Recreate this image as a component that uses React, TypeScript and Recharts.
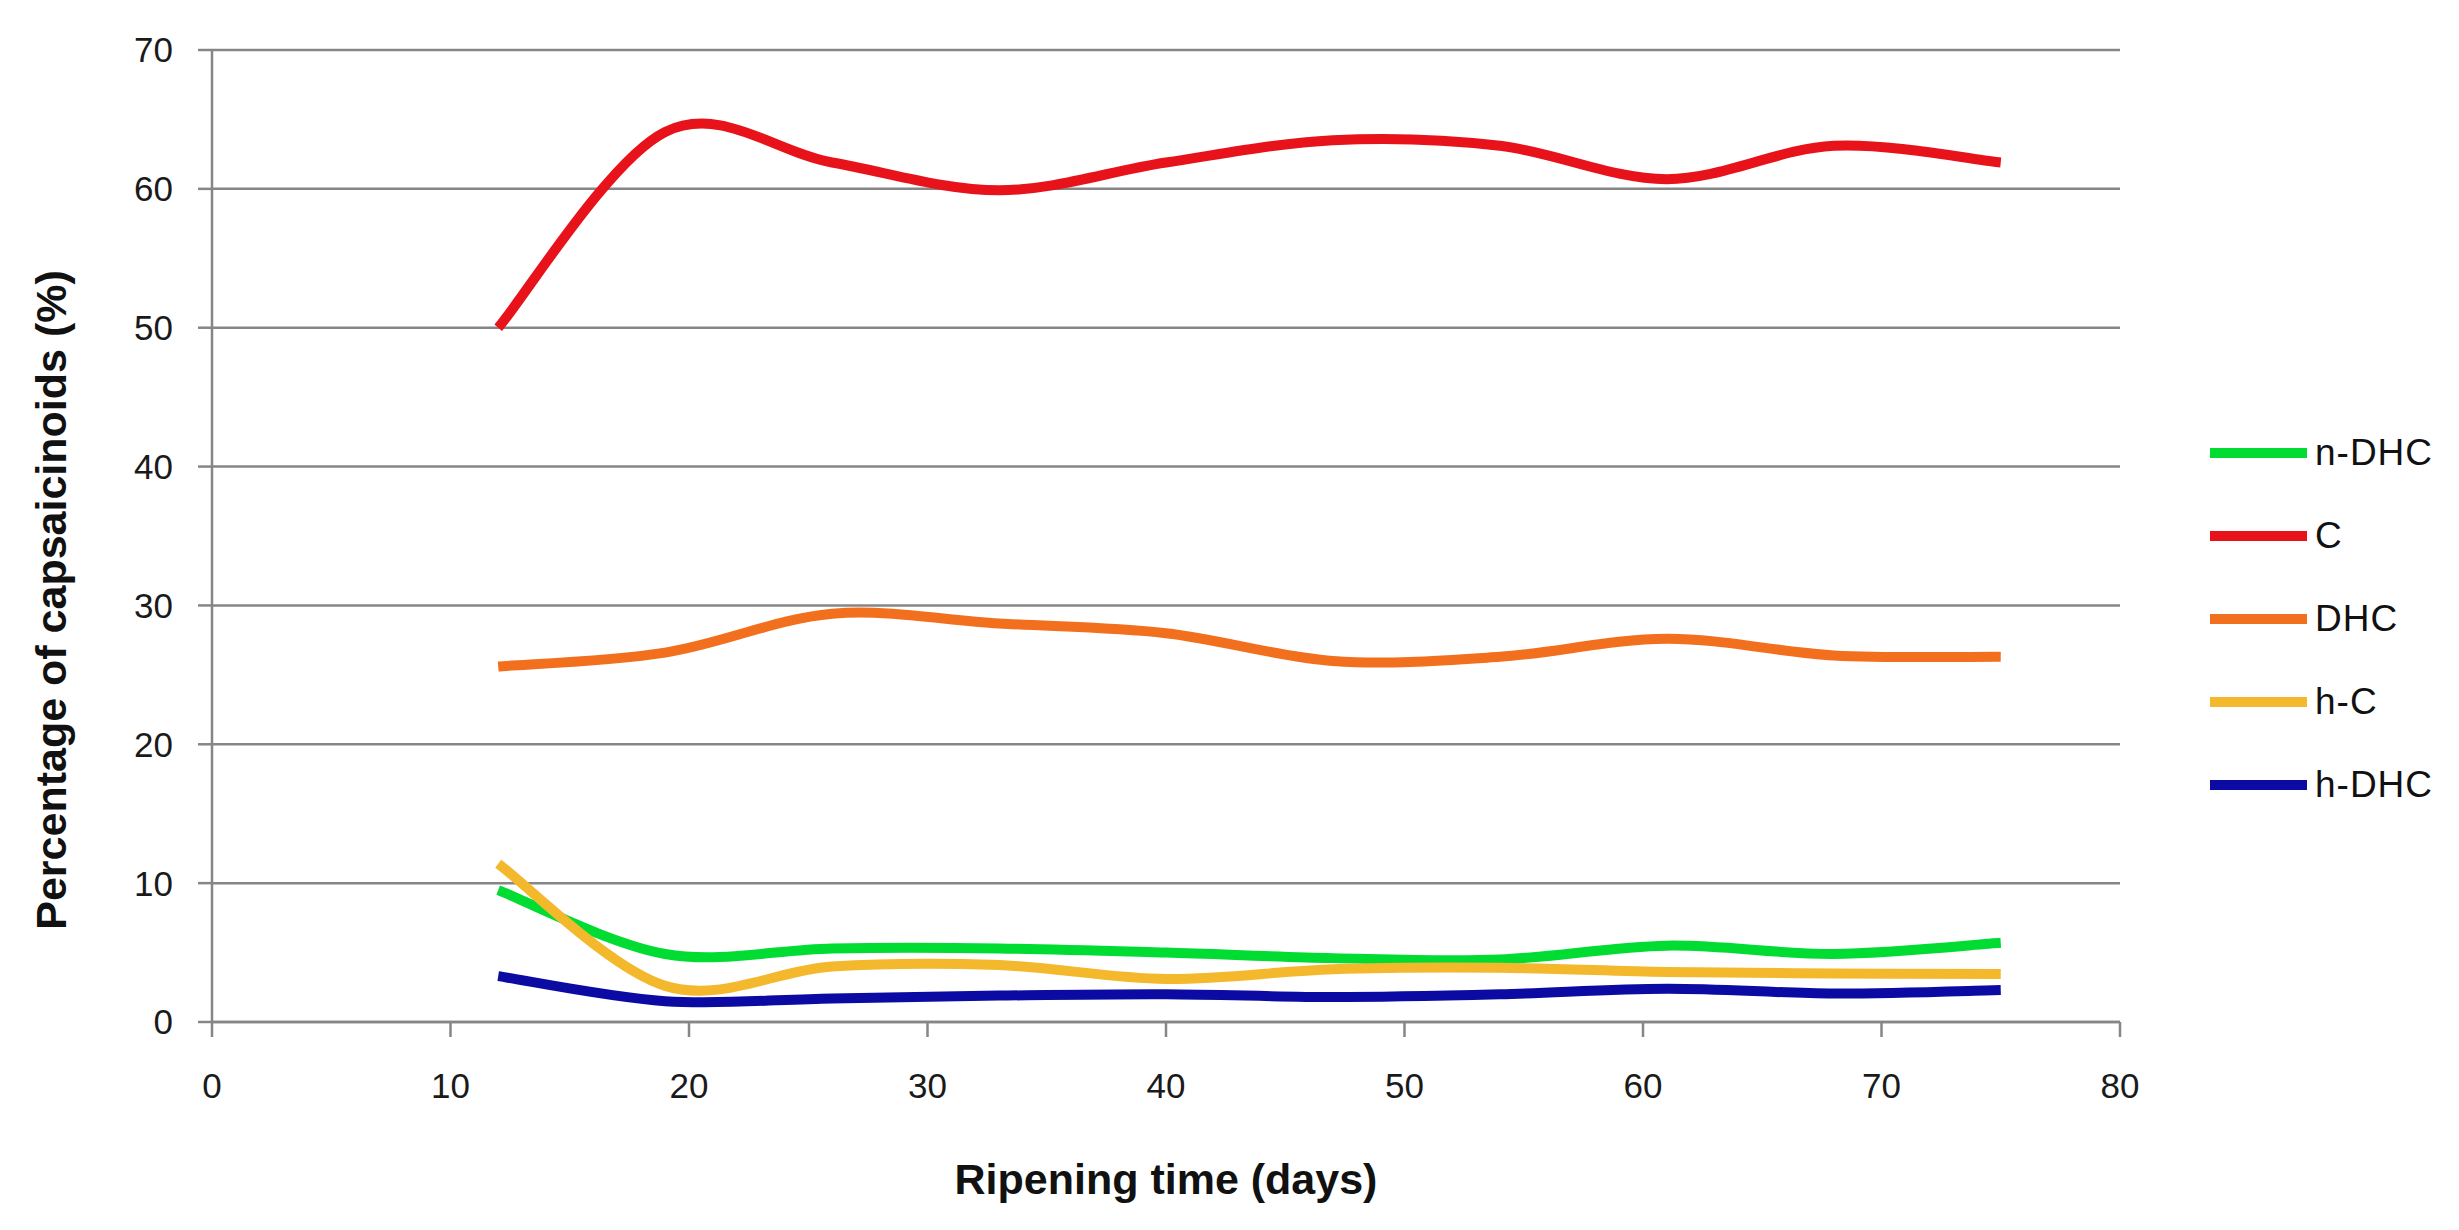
import { LineChart, Line, XAxis, YAxis, CartesianGrid, Legend, Label } from "recharts";

const days = [12, 19, 26, 33, 40, 47, 54, 61, 68, 75];
const nDHC = [9.5, 4.9, 5.3, 5.3, 5.0, 4.6, 4.5, 5.5, 4.9, 5.7];
const capsaicin = [50, 64.1, 61.9, 59.9, 61.9, 63.5, 63.1, 60.7, 63.1, 61.9];
const DHC = [25.6, 26.6, 29.4, 28.7, 28.0, 26.0, 26.3, 27.6, 26.4, 26.3];
const hC = [11.4, 2.6, 4.0, 4.1, 3.1, 3.8, 3.9, 3.6, 3.5, 3.45];
const hDHC = [3.3, 1.5, 1.7, 1.9, 2.0, 1.8, 2.0, 2.4, 2.05, 2.3];

const xTicks = [0, 10, 20, 30, 40, 50, 60, 70, 80];
const yTicks = [0, 10, 20, 30, 40, 50, 60, 70];

const series = [
  { key: "nDHC", name: "n-DHC", color: "#00DC32" },
  { key: "C", name: "C", color: "#E8121B" },
  { key: "DHC", name: "DHC", color: "#F26F1E" },
  { key: "hC", name: "h-C", color: "#F4B82C" },
  { key: "hDHC", name: "h-DHC", color: "#0B0BA3" },
];

const data = days.map((d, i) => ({
  day: d,
  nDHC: nDHC[i],
  C: capsaicin[i],
  DHC: DHC[i],
  hC: hC[i],
  hDHC: hDHC[i],
}));

// smoothing like Excel's "smoothed line": bezier with catmull-rom style handles
function excelSmooth(context: any) {
  let pts: number[][] = [];
  return {
    areaStart() {},
    areaEnd() {},
    lineStart() {
      pts = [];
    },
    lineEnd() {
      const n = pts.length;
      if (!n) return;
      context.moveTo(pts[0][0], pts[0][1]);
      for (let i = 0; i < n - 1; i++) {
        const p0 = pts[Math.max(0, i - 1)];
        const p1 = pts[i];
        const p2 = pts[i + 1];
        const p3 = pts[Math.min(n - 1, i + 2)];
        context.bezierCurveTo(
          p1[0] + (p2[0] - p0[0]) / 6,
          p1[1] + (p2[1] - p0[1]) / 6,
          p2[0] - (p3[0] - p1[0]) / 6,
          p2[1] - (p3[1] - p1[1]) / 6,
          p2[0],
          p2[1]
        );
      }
    },
    point(x: number, y: number) {
      pts.push([+x, +y]);
    },
  };
}

const font = "'Liberation Sans', Arial, sans-serif";
const gridColor = "#868686";

function LegendBox() {
  return (
    <div style={{ fontFamily: font }}>
      {series.map((s) => (
        <div key={s.key} style={{ display: "flex", alignItems: "center", height: 83 }}>
          <svg width={100} height={12}>
            <line x1={0} y1={6} x2={97} y2={6} stroke={s.color} strokeWidth={10} />
          </svg>
          <span style={{ fontSize: 37, color: "#111", marginLeft: 5, letterSpacing: 1 }}>{s.name}</span>
        </div>
      ))}
    </div>
  );
}

export default function App() {
  return (
    <div style={{ position: "absolute", left: 0, top: 0, width: 2459, height: 1230, background: "#fff", fontFamily: font }}>
      <LineChart width={2459} height={1230} data={data} margin={{ top: 50, right: 339, left: 62, bottom: 108 }}>
        <CartesianGrid vertical={false} stroke={gridColor} strokeWidth={2.5} />
        <XAxis
          dataKey="day"
          type="number"
          domain={[0, 80]}
          ticks={xTicks}
          height={100}
          stroke={gridColor}
          strokeWidth={2.5}
          tickSize={15}
          tickMargin={36}
          tick={{ fontSize: 35, fill: "#1a1a1a", fontFamily: font }}
        >
          <Label
            content={({ viewBox }: any) => (
              <text
                x={viewBox.x + viewBox.width / 2}
                y={viewBox.y + 172}
                textAnchor="middle"
                fontSize={43}
                fontWeight="bold"
                fill="#111"
                fontFamily={font}
              >
                Ripening time (days)
              </text>
            )}
          />
        </XAxis>
        <YAxis
          type="number"
          domain={[0, 70]}
          ticks={yTicks}
          width={150}
          stroke={gridColor}
          strokeWidth={2.5}
          tickSize={14}
          tickMargin={25}
          tick={{ fontSize: 35, fill: "#1a1a1a", fontFamily: font }}
        >
          <Label
            content={({ viewBox }: any) => {
              const x = viewBox.x + 4;
              const y = viewBox.y + 550;
              return (
                <text
                  x={x}
                  y={y}
                  transform={`rotate(-90 ${x} ${y})`}
                  textAnchor="middle"
                  fontSize={43}
                  fontWeight="bold"
                  fill="#111"
                  fontFamily={font}
                >
                  Percentage of capsaicinoids (%)
                </text>
              );
            }}
          />
        </YAxis>
        <Legend
          layout="vertical"
          align="center"
          verticalAlign="middle"
          wrapperStyle={{ left: 2210, top: 411, width: 240 }}
          content={() => <LegendBox />}
        />
        {series.map((s) => (
          <Line
            key={s.key}
            dataKey={s.key}
            name={s.name}
            type={excelSmooth as any}
            stroke={s.color}
            strokeWidth={10}
            dot={false}
            activeDot={false}
            isAnimationActive={false}
          />
        ))}
      </LineChart>
    </div>
  );
}
